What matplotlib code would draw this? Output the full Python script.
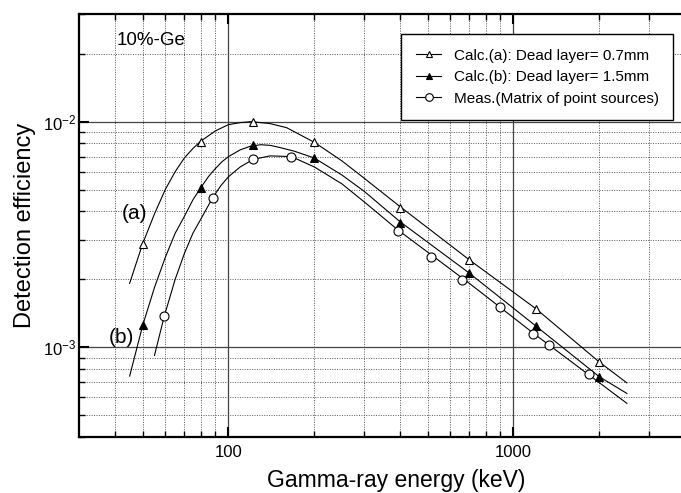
import math

import matplotlib
matplotlib.use("Agg")
import matplotlib.pyplot as plt
from matplotlib.lines import Line2D
from matplotlib.ticker import FixedLocator, NullFormatter, FuncFormatter


# Puntos calculados (a) y (b)
calc_energy = [50, 80, 122, 200, 400, 700, 1200, 2000]
calc_a = [0.00288, 0.00816, 0.0100, 0.0081, 0.00415, 0.00244, 0.00148, 0.00086]
calc_b = [0.00126, 0.00506, 0.00785, 0.00693, 0.00357, 0.00213, 0.00124, 0.00074]

# Puntos medidos
meas_energy = [59.5, 88, 122, 166, 392, 514, 662, 898, 1173, 1332, 1836]
meas_eff = [0.00137, 0.00459, 0.00681, 0.00695, 0.00327, 0.00251, 0.00198,
            0.00151, 0.00114, 0.00102, 0.00076]

# Curvas
curve_a_energy = [45, 50, 55, 60, 65, 70, 75, 80, 90, 100, 110, 120, 140, 160,
                  200, 250, 300, 400, 700, 1200, 2000, 2500]
curve_a = [0.00192, 0.00288, 0.0039, 0.0050, 0.0060, 0.0069, 0.0076, 0.0082,
           0.0091, 0.0097, 0.0099, 0.0100, 0.0098, 0.0094, 0.0081, 0.0067,
           0.0056, 0.0042, 0.00244, 0.00148, 0.00086, 0.000695]

curve_b_energy = [45, 50, 55, 60, 65, 70, 75, 80, 85, 90, 95, 100, 110, 120,
                  130, 140, 150, 170, 200, 250, 300, 400, 700, 1200, 2000, 2500]
curve_b = [0.000745, 0.00125, 0.00184, 0.0025, 0.0032, 0.0038, 0.0045, 0.0051,
           0.0057, 0.0062, 0.00665, 0.0070, 0.0075, 0.0078, 0.0079, 0.00785,
           0.0077, 0.0074, 0.0069, 0.0058, 0.0049, 0.0036, 0.00213, 0.00124,
           0.00074, 0.000624]

curve_m_energy = [55, 59.5, 65, 70, 75, 80, 88, 94, 100, 110, 122, 140, 166,
                  200, 250, 300, 392, 700, 1200, 2500]
curve_m = [0.00092, 0.00137, 0.0020, 0.0026, 0.0032, 0.0037, 0.0046, 0.0052,
           0.0057, 0.0063, 0.0068, 0.00705, 0.0070, 0.0063, 0.0053, 0.0044,
           0.00332, 0.00192, 0.00113, 0.000564]

x_major = [100, 1000, 10000]
x_minor = [40, 50, 60, 70, 80, 90, 200, 300, 400, 500, 600, 700, 800, 900,
           2000, 3000, 4000]
y_major = [1e-3, 1e-2]
y_minor = [4e-4, 5e-4, 6e-4, 7e-4, 8e-4, 9e-4,
           2e-3, 3e-3, 4e-3, 5e-3, 6e-3, 7e-3, 8e-3, 9e-3, 2e-2, 3e-2]

plt.rcParams["font.family"] = ["Liberation Sans", "DejaVu Sans"]

fig = plt.figure(figsize=(6.81, 4.93), dpi=100)
ax = fig.add_axes([0.1167, 0.1136, 0.9298, 0.858])
ax.set_xscale("log")
ax.set_yscale("log")

# Curvas
ax.plot(curve_a_energy, curve_a, color="black", lw=0.8, zorder=3)
ax.plot(curve_b_energy, curve_b, color="black", lw=0.8, zorder=3)
ax.plot(curve_m_energy, curve_m, color="black", lw=0.8, zorder=3)

# Marcadores
ax.plot(calc_energy, calc_a, ls="none", marker="^", ms=6, mfc="white",
        mec="black", mew=0.8, zorder=4)
ax.plot(calc_energy, calc_b, ls="none", marker="^", ms=6, mfc="black",
        mec="black", mew=0.8, zorder=4)
ax.plot(meas_energy, meas_eff, ls="none", marker="o", ms=6.5, mfc="white",
        mec="black", mew=0.8, zorder=4)

ax.set_xlim(30, 5000)
ax.set_ylim(4e-4, 3e-2)

# Ejes y rejilla
ax.xaxis.set_major_locator(FixedLocator(x_major))
ax.xaxis.set_minor_locator(FixedLocator(x_minor))
ax.yaxis.set_major_locator(FixedLocator(y_major))
ax.yaxis.set_minor_locator(FixedLocator(y_minor))
ax.xaxis.set_major_formatter(FuncFormatter(lambda v, p: "%d" % v))
ax.yaxis.set_major_formatter(
    FuncFormatter(lambda v, p: r"$\mathregular{10^{%d}}$" % round(math.log10(v))))
ax.xaxis.set_minor_formatter(NullFormatter())
ax.yaxis.set_minor_formatter(NullFormatter())

ax.tick_params(which="both", direction="in", top=True, right=True,
               labelsize=12, colors="black")
ax.tick_params(which="major", length=7, width=1.5)
ax.tick_params(which="minor", length=4, width=1.0)
ax.tick_params(axis="x", which="major", pad=6)
ax.tick_params(axis="y", which="major", pad=2)
ax.grid(which="major", color="#444444", lw=0.9, ls="-")
ax.grid(which="minor", color="#555555", lw=0.7, ls=(0, (1, 1.5)))
ax.set_axisbelow(True)
for s in ax.spines.values():
    s.set_linewidth(1.6)

ax.set_xlabel("Gamma-ray energy (keV)", fontsize=16.5, labelpad=6)
ax.set_ylabel("Detection efficiency", fontsize=17, labelpad=5)

# Textos
ax.text(40.4, 0.0228, "10%-Ge", fontsize=13.5, va="center", ha="left")
ax.text(46.8, 0.0039, "(a)", fontsize=15, va="center", ha="center")
ax.text(42.1, 0.0011, "(b)", fontsize=15, va="center", ha="center")

# Leyenda
handles = [
    Line2D([], [], color="black", lw=0.8, marker="^", ms=5, mfc="white",
           mec="black", mew=0.8),
    Line2D([], [], color="black", lw=0.8, marker="^", ms=5, mfc="black",
           mec="black", mew=0.8),
    Line2D([], [], color="black", lw=0.8, marker="o", ms=5.5, mfc="white",
           mec="black", mew=0.8),
]
labels = ["Calc.(a): Dead layer= 0.7mm", "Calc.(b): Dead layer= 1.5mm",
          "Meas.(Matrix of point sources)"]
leg = ax.legend(handles, labels, loc="upper left",
                bbox_to_anchor=(401 / 681, 1 - 34 / 493),
                bbox_transform=fig.transFigure, borderaxespad=0,
                fontsize=11, handlelength=1.7, labelspacing=0.5,
                fancybox=False, framealpha=1, edgecolor="black",
                numpoints=1, borderpad=0.95)
leg.get_frame().set_linewidth(1.0)

fig.savefig("out.png", dpi=100)
